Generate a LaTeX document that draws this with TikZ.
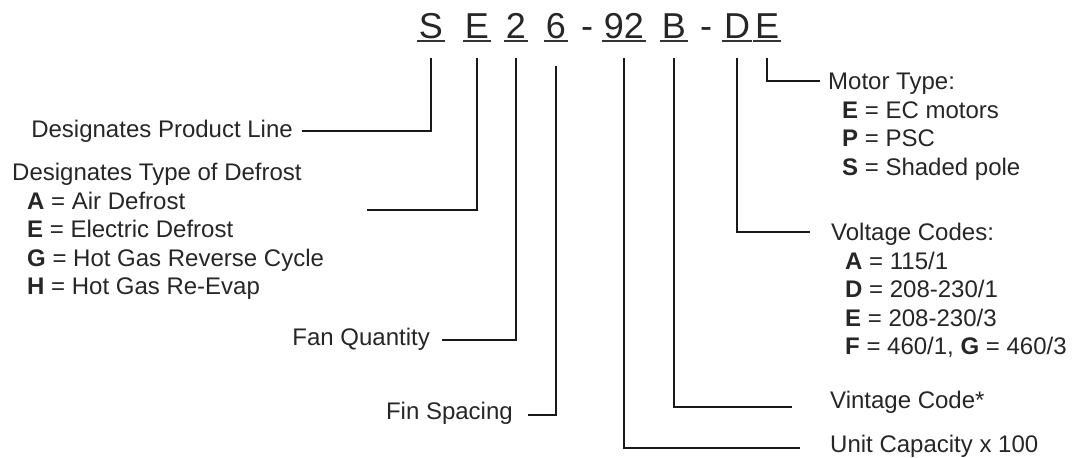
\documentclass[tikz,border=0pt]{standalone}
\usepackage{fontspec}
\setmainfont{Liberation Sans}
\usetikzlibrary{positioning}

\begin{document}
\begin{tikzpicture}[
  x=1pt, y=-1pt,
  code/.style={font=\fontsize{36}{36}\selectfont, text=black!85, inner sep=0pt,
               outer xsep=0pt, outer ysep=20pt, text depth=0pt, anchor=base},
  lbl/.style={font=\fontsize{24}{28.6}\selectfont, text=black!85, inner sep=0pt, align=left},
  lead/.style={line width=1.6pt, black!90},
  uline/.style={line width=1.8pt, black!80},
]
\useasboundingbox (0,0) rectangle (1072,458);

% model number
\node[code] (cS) at (431,38) {S};
\node[code] (cE) at (477,38) {E};
\node[code] (c2) at (516,38) {2};
\node[code] (c6) at (556,38) {6};
\node[code] (dashA) at (587,38) {-};
\node[code] (c92) at (624,38) {92};
\node[code] (cB) at (674,38) {B};
\node[code] (dashB) at (706,38) {-};
\node[code] (cD) at (737,38) {D};
\node[code] (cM) at (767,38) {E};
\draw[uline] ([xshift=-2pt,yshift=-3pt]cS.base west) -- ([xshift=2pt,yshift=-3pt]cS.base east);
\draw[uline] ([xshift=-2pt,yshift=-3pt]cE.base west) -- ([xshift=2pt,yshift=-3pt]cE.base east);
\draw[uline] ([xshift=-2pt,yshift=-3pt]c2.base west) -- ([xshift=2pt,yshift=-3pt]c2.base east);
\draw[uline] ([xshift=-2pt,yshift=-3pt]c6.base west) -- ([xshift=2pt,yshift=-3pt]c6.base east);
\draw[uline] ([xshift=-2pt,yshift=-3pt]c92.base west) -- ([xshift=2pt,yshift=-3pt]c92.base east);
\draw[uline] ([xshift=-2pt,yshift=-3pt]cB.base west) -- ([xshift=2pt,yshift=-3pt]cB.base east);
\draw[uline] ([xshift=-2pt,yshift=-3pt]cD.base west) -- ([xshift=2pt,yshift=-3pt]cD.base east);
\draw[uline] ([xshift=-2pt,yshift=-3pt]cM.base west) -- ([xshift=2pt,yshift=-3pt]cM.base east);

% left side
\node[lbl, anchor=base east] (prod) at (293,137) {Designates Product Line};
\node[lbl, anchor=north west] (defr) at (12,163) {Designates Type of Defrost\\
  \hspace*{15pt}\textbf{A} = Air Defrost\\
  \hspace*{15pt}\textbf{E} = Electric Defrost\\
  \hspace*{15pt}\textbf{G} = Hot Gas Reverse Cycle\\
  \hspace*{15pt}\textbf{H} = Hot Gas Re-Evap};
\node[lbl, anchor=base east] (fanq) at (430,345) {Fan Quantity};
\node[lbl, anchor=base east] (fins) at (513,419) {Fin Spacing};

% right side
\node[lbl, anchor=north west] (motor) at (828,73) {Motor Type:\\
  \hspace*{14pt}\textbf{E} = EC motors\\
  \hspace*{14pt}\textbf{P} = PSC\\
  \hspace*{14pt}\textbf{S} = Shaded pole};
\node[lbl, anchor=north west] (volt) at (831,223) {Voltage Codes:\\
  \hspace*{14pt}\textbf{A} = 115/1\\
  \hspace*{14pt}\textbf{D} = 208-230/1\\
  \hspace*{14pt}\textbf{E} = 208-230/3\\
  \hspace*{14pt}\textbf{F} = 460/1, \textbf{G} = 460/3};
\node[lbl, anchor=base west] (vint) at (830,408) {Vintage Code*};
\node[lbl, anchor=base west] (unit) at (830,452) {Unit Capacity x 100};

% leaders
\draw[lead] (cS.south) |- ([xshift=9pt]prod.east);
\draw[lead] (cE.south) |- ([xshift=43pt,yshift=-47pt]defr.north east);
\draw[lead] (c2.south) |- ([xshift=12pt,yshift=-1pt]fanq.east);
\draw[lead, shorten <=8pt] (c6.south) |- ([xshift=15pt,yshift=-2pt]fins.east);
\draw[lead] (c92.south) |- ([xshift=-30pt,yshift=-2pt]unit.west);
\draw[lead] (cB.south) |- ([xshift=-38pt,yshift=-5pt]vint.west);
\draw[lead] (cD.south) |- ([xshift=-21pt,yshift=-9pt]volt.north west);
\draw[lead] (cM.south) |- ([xshift=-8pt,yshift=-8pt]motor.north west);
\end{tikzpicture}
\end{document}
